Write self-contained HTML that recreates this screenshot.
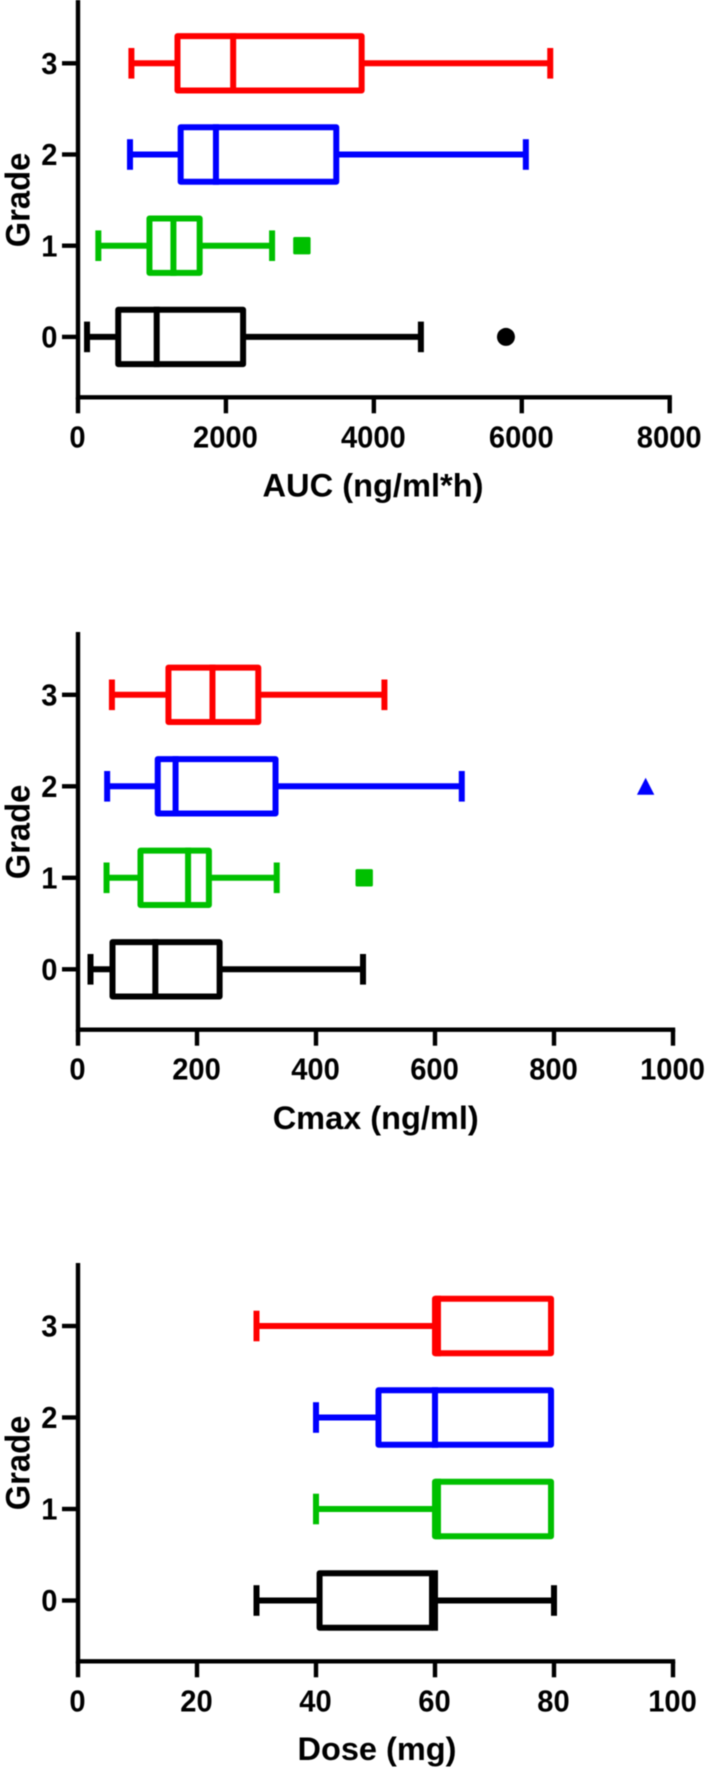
<!DOCTYPE html>
<html lang="en">
<head>
<meta charset="utf-8">
<title>Grade box plots: AUC, Cmax and Dose</title>
<style>
html,body{margin:0;padding:0;background:#fff;}
#figure{display:block;width:709px;height:1773px;filter:blur(0.45px);font-family:"Liberation Sans",Arial,sans-serif;font-weight:700;}
text{fill:#000;font-family:"Liberation Sans",Arial,sans-serif;font-weight:700;}
.title{font-size:32.5px;text-anchor:middle;}
.tick{font-size:31px;}
</style>
</head>
<body>
<svg id="figure" xmlns="http://www.w3.org/2000/svg" width="709" height="1773" viewBox="0 0 709 1773">
  <g id="chart-auc">
    <text class="title" x="373" y="496.3" textLength="221" lengthAdjust="spacingAndGlyphs">AUC (ng/ml*h)</text>
    <text class="title" transform="translate(29.5 200) rotate(-90)" textLength="94.5" lengthAdjust="spacingAndGlyphs" style="font-size:34px">Grade</text>
  </g>
  <g id="chart-cmax">
    <text class="title" x="375.7" y="1129" textLength="206" lengthAdjust="spacingAndGlyphs">Cmax (ng/ml)</text>
    <text class="title" transform="translate(29.5 832) rotate(-90)" textLength="94.5" lengthAdjust="spacingAndGlyphs" style="font-size:34px">Grade</text>
  </g>
  <g id="chart-dose">
    <text class="title" x="377" y="1760" textLength="159" lengthAdjust="spacingAndGlyphs">Dose (mg)</text>
    <text class="title" transform="translate(29.5 1463) rotate(-90)" textLength="94.5" lengthAdjust="spacingAndGlyphs" style="font-size:34px">Grade</text>
  </g>
</svg>
<script>
// Categories (index = grade)
const grades = [0, 1, 2, 3];
const gradeTickLabels = ['0', '1', '2', '3'];

// AUC (ng/ml*h)
const aucTicks = [0, 2000, 4000, 6000, 8000];
const aucMin = [122, 275, 703, 722];
const aucQ1 = [544, 966, 1388, 1345];
const aucMedian = [1064, 1290, 1865, 2098];
const aucQ3 = [2232, 1645, 3492, 3835];
const aucMax = [4636, 2624, 6055, 6385];
const aucOutlierGrades = [0, 1];
const aucOutlierValues = [5786, 3027];

// Cmax (ng/ml)
const cmaxTicks = [0, 200, 400, 600, 800, 1000];
const cmaxMin = [21, 48, 49, 57];
const cmaxQ1 = [58, 105, 134, 152];
const cmaxMedian = [130, 185, 164, 226];
const cmaxQ3 = [238, 220, 332, 303];
const cmaxMax = [479, 334, 645, 515];
const cmaxOutlierGrades = [1, 2];
const cmaxOutlierValues = [481, 954];

// Dose (mg)
const doseTicks = [0, 20, 40, 60, 80, 100];
const doseMin = [30, 40, 40, 30];
const doseQ1 = [40.6, 60, 50.5, 60];
const doseMedian = [60, 60.5, 60, 60.5];
const doseQ3 = [59.5, 79.5, 79.5, 79.5];
const doseMax = [80, 79.5, 79.5, 79.5];
const doseOutlierGrades = [];
const doseOutlierValues = [];

const gradeColors = ['#000000', '#00c000', '#0000ff', '#ff0000'];
const NS = 'http://www.w3.org/2000/svg';

function make(parent, tag, attrs) {
  const el = document.createElementNS(NS, tag);
  for (const k in attrs) el.setAttribute(k, attrs[k]);
  parent.appendChild(el);
  return el;
}

function drawChart(c) {
  const root = document.getElementById(c.id);
  const xScale = function (v) { return c.x0 + (v / c.xMax) * (c.x1 - c.x0); };
  const yScale = function (g) { return c.yGrade0 - g * c.yStep; };
  const axisStroke = 4.4;
  const digitAdvance = 16.2;

  const yAxis = make(root, 'line', { x1: c.x0, x2: c.x0, y1: c.top, y2: c.axisY + axisStroke / 2, stroke: '#000', 'stroke-width': axisStroke });
  
  

  const xAxis = make(root, 'line', { x1: c.x0, x2: c.x1 + axisStroke / 2, y1: c.axisY, y2: c.axisY, stroke: '#000', 'stroke-width': axisStroke });
  
  

  c.ticks.forEach(function (t) {
    const px = xScale(t);
    const tick = make(root, 'line', { x1: px, x2: px, y1: c.axisY, y2: c.axisY + 16, stroke: '#000', 'stroke-width': axisStroke });
    
    
    const text = String(t);
    const label = make(root, 'text', { x: px - 0.5, y: c.axisY + 50, 'text-anchor': 'middle', 'class': 'tick', textLength: text.length * digitAdvance, lengthAdjust: 'spacingAndGlyphs' });
    
    
    label.textContent = text;
  });

  grades.forEach(function (g) {
    const py = yScale(g);
    const tick = make(root, 'line', { x1: 62, x2: c.x0, y1: py, y2: py, stroke: '#000', 'stroke-width': axisStroke });
    
    
    const label = make(root, 'text', { x: 57.5, y: py + 10.7, 'text-anchor': 'end', 'class': 'tick', textLength: digitAdvance, lengthAdjust: 'spacingAndGlyphs' });
    
    
    label.textContent = gradeTickLabels[g];

    const color = gradeColors[g];
    const sw = 6;
    const group = make(root, 'g', { fill: 'none', stroke: color, 'stroke-width': sw, 'stroke-linejoin': 'round' });
    
    

    const xMin = xScale(c.min[g]);
    const xQ1 = xScale(c.q1[g]);
    const xMed = xScale(c.median[g]);
    const xQ3 = xScale(c.q3[g]);
    const xMx = xScale(c.max[g]);
    const left = Math.min(xQ1, xQ3);
    const right = Math.max(xQ1, xQ3);
    const halfBox = 27.2;
    const halfCap = 15.3;

    const lowWhisker = make(group, 'line', { x1: xMin, x2: left, y1: py, y2: py });
    
    
    const lowCap = make(group, 'line', { x1: xMin, x2: xMin, y1: py - halfCap, y2: py + halfCap });
    
    

    if (c.max[g] > c.q3[g]) {
      const highWhisker = make(group, 'line', { x1: right, x2: xMx, y1: py, y2: py });
      
      
      const highCap = make(group, 'line', { x1: xMx, x2: xMx, y1: py - halfCap, y2: py + halfCap });
      
      
    }

    const box = make(group, 'rect', { x: left, y: py - halfBox, width: right - left, height: halfBox * 2 });
    
    

    const med = make(group, 'line', { x1: xMed, x2: xMed, y1: py - halfBox, y2: py + halfBox, 'stroke-linecap': 'square' });
    
    
  });

  c.outlierGrades.forEach(function (g, i) {
    const px = xScale(c.outlierValues[i]);
    const py = yScale(g);
    const color = gradeColors[g];
    let mark;
    if (g === 0) {
      mark = make(root, 'circle', { cx: px, cy: py, r: 9, fill: color });
    } else if (g === 1) {
      mark = make(root, 'rect', { x: px - 8.7, y: py - 8.7, width: 17.4, height: 17.4, rx: 1.5, fill: color });
    } else {
      mark = make(root, 'polygon', { points: (px) + ',' + (py - 8.5) + ' ' + (px + 8.7) + ',' + (py + 8.5) + ' ' + (px - 8.7) + ',' + (py + 8.5), fill: color });
    }
    
    
  });
}

drawChart({ id: 'chart-auc', key: 'auc', x0: 78, x1: 669.7, xMax: 8000, top: 0, axisY: 397.3, yGrade0: 336.9, yStep: 91.2,
  ticks: aucTicks, min: aucMin, q1: aucQ1, median: aucMedian, q3: aucQ3, max: aucMax,
  outlierGrades: aucOutlierGrades, outlierValues: aucOutlierValues });
drawChart({ id: 'chart-cmax', key: 'cmax', x0: 78, x1: 673, xMax: 1000, top: 632, axisY: 1029.7, yGrade0: 969.3, yStep: 91.5,
  ticks: cmaxTicks, min: cmaxMin, q1: cmaxQ1, median: cmaxMedian, q3: cmaxQ3, max: cmaxMax,
  outlierGrades: cmaxOutlierGrades, outlierValues: cmaxOutlierValues });
drawChart({ id: 'chart-dose', key: 'dose', x0: 78, x1: 673, xMax: 100, top: 1263, axisY: 1661.3, yGrade0: 1600.5, yStep: 91.5,
  ticks: doseTicks, min: doseMin, q1: doseQ1, median: doseMedian, q3: doseQ3, max: doseMax,
  outlierGrades: doseOutlierGrades, outlierValues: doseOutlierValues });
</script>
</body>
</html>
